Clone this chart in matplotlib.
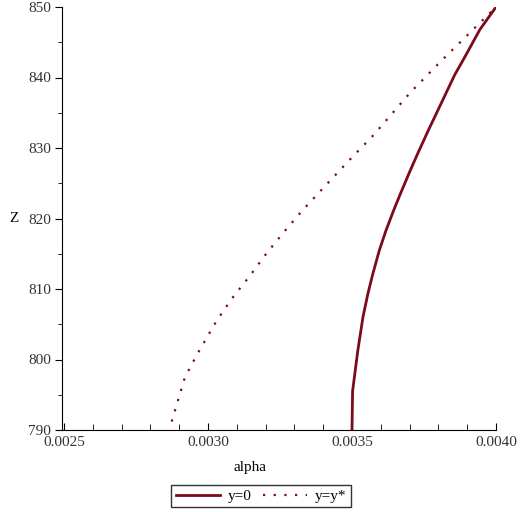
import matplotlib
matplotlib.use("Agg")
import matplotlib.pyplot as plt
from matplotlib.ticker import MultipleLocator

# valores
z_y0 = [790, 795.5, 797.4, 801.2, 806.0, 809.3, 812.1, 815.5, 818.3, 821.2,
        823.5, 826.6, 829.2, 832.5, 834.9, 838.0, 840.4, 843.0, 846.8, 850]
alpha_y0 = [0.003500, 0.003502, 0.003508, 0.003520, 0.003538, 0.003555,
            0.003572, 0.003595, 0.003618, 0.003645, 0.003668, 0.003700,
            0.003728, 0.003765, 0.003793, 0.003829, 0.003857, 0.003893,
            0.003944, 0.004000]

z_ystar = [791.2, 797.5, 801.0, 805.5, 808.8, 811.9, 815.1, 818.1, 821.2,
           824.1, 827.9, 831.8, 837.8, 842.2, 850]
alpha_ystar = [0.002874, 0.002920, 0.002966, 0.003030, 0.003086, 0.003146,
               0.003204, 0.003264, 0.003329, 0.003395, 0.003482, 0.003574,
               0.003701, 0.003806, 0.004000]

xticks = [0.0025, 0.0030, 0.0035, 0.0040]
xticklabels = ["0.0025", "0.0030", "0.0035", "0.0040"]
yticks = [790, 800, 810, 820, 830, 840, 850]

color = "#7B0A1A"
plt.rcParams["font.family"] = ["Liberation Serif", "DejaVu Serif"]

fig = plt.figure(figsize=(5.2, 5.12), dpi=100)
ax = fig.add_axes([62 / 520, 82 / 512, 434 / 520, 423 / 512])

ax.plot(alpha_y0, z_y0, color=color, lw=2.0, label="y=0", solid_joinstyle="round")
ax.plot(alpha_ystar, z_ystar, color=color, lw=1.6, linestyle=(0, (1, 3.8)), label="y=y*")

ax.set_xlim(0.0025 - 0.0000069, 0.0040)
ax.set_ylim(790, 850)

ax.spines["top"].set_visible(False)
ax.spines["right"].set_visible(False)

ax.set_xticks(xticks)
ax.set_xticklabels(xticklabels)
ax.set_yticks(yticks)
ax.xaxis.set_minor_locator(MultipleLocator(0.0001))
ax.yaxis.set_minor_locator(MultipleLocator(5))
ax.tick_params(axis="x", which="major", direction="in", length=5, labelsize=11, labelcolor="#333333", pad=4)
ax.tick_params(axis="x", which="minor", direction="in", length=4)
ax.tick_params(axis="y", which="major", direction="out", length=5, labelsize=11, labelcolor="#333333", pad=3)
ax.tick_params(axis="y", which="minor", direction="out", length=3)

fig.text(250 / 520, 1 - 467 / 512, "alpha", ha="center", va="center", fontsize=11)
fig.text(9 / 520, 1 - 218 / 512, "Z", ha="left", va="center", fontsize=11)

leg = fig.legend(loc="center", bbox_to_anchor=(261 / 520, 1 - 496 / 512), ncol=2,
                 frameon=True, fancybox=False, edgecolor="black", fontsize=11,
                 handlelength=2.9, columnspacing=0.7, handletextpad=0.5,
                 borderpad=0.3, borderaxespad=0)
leg.get_frame().set_linewidth(1.0)

fig.savefig("out.png", dpi=100)
